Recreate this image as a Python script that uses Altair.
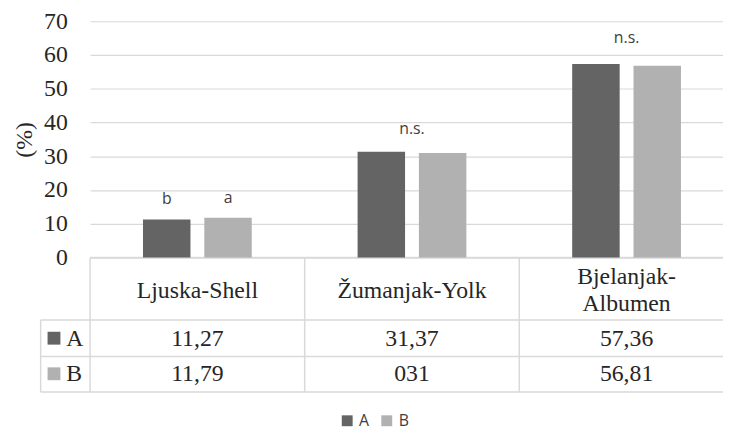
import altair as alt
import pandas as pd

# ---- data ----
categories = ["Ljuska-Shell", "Žumanjak-Yolk", "Bjelanjak-Albumen"]
header_labels = ["Ljuska-Shell", "Žumanjak-Yolk", "Bjelanjak-\nAlbumen"]
series = ["A", "B"]
values_a = [11.27, 31.37, 57.36]
values_b = [11.79, 31.0, 56.81]
table_a = ["11,27", "31,37", "57,36"]
table_b = ["11,79", "031", "56,81"]
colors = ["#646464", "#b1b1b1"]
y_ticks = [0, 10, 20, 30, 40, 50, 60, 70]

# per-bar significance letters (category, series, text, label level in %)
letter_cat = ["Ljuska-Shell", "Ljuska-Shell"]
letter_series = ["A", "B"]
letter_text = ["b", "a"]
letter_level = [15.8, 16.2]

# per-group notes
note_cat = ["Žumanjak-Yolk", "Bjelanjak-Albumen"]
note_text = ["n.s.", "n.s."]
note_level = [36.6, 63.6]

# ---- styles ----
SERIF = "Liberation Serif, Times New Roman, Times, serif"
SANS = "Open Sans"
TXT = "#262626"
LINE = "#d9d9d9"
W, H = 640, 239
COL_RANGE = 651  # three table columns, the last one runs off the page

bars = pd.DataFrame({
    "category": categories * 2,
    "series": ["A"] * 3 + ["B"] * 3,
    "value": values_a + values_b,
})
table = pd.DataFrame({
    "category": categories * 2,
    "series": ["A"] * 3 + ["B"] * 3,
    "txt": table_a + table_b,
})
header = pd.DataFrame({"category": categories, "header": header_labels})
header["lines"] = header["header"].str.count("\n") + 1
letters = pd.DataFrame({"category": letter_cat, "series": letter_series,
                        "txt": letter_text, "value": letter_level})
notes = pd.DataFrame({"category": note_cat, "txt": note_text, "value": note_level})
one = pd.DataFrame({"k": [0]})

x_scale = alt.Scale(domain=categories, range=[0, COL_RANGE], paddingInner=0, paddingOuter=0)
x_enc = alt.X("category:N", sort=categories, scale=x_scale, axis=None)
xoff = alt.XOffset("series:N", sort=series,
                   scale=alt.Scale(domain=series, paddingInner=0.2258, paddingOuter=0.8629))
y_enc = alt.Y(
    "value:Q",
    scale=alt.Scale(domain=[0, 70], nice=False, zero=True),
    axis=alt.Axis(
        values=y_ticks, grid=True, gridColor=LINE, gridWidth=1.2,
        domain=False, ticks=False, tickSize=0, labelPadding=23,
        labelFont=SERIF, labelFontSize=24, labelColor=TXT,
        title="(%)", titleFont=SERIF, titleFontSize=24, titleFontWeight="normal",
        titleColor=TXT, titleX=-66, titleY=119.5, titleAngle=270,
        titleAlign="center", titleBaseline="middle",
    ),
)

bar_layer = alt.Chart(bars).mark_bar().encode(
    x=x_enc, xOffset=xoff, y=y_enc,
    color=alt.Color(
        "series:N",
        scale=alt.Scale(domain=series, range=colors),
        legend=alt.Legend(
            orient="none", legendX=252, legendY=396, direction="horizontal",
            title=None, symbolType="square", symbolSize=121, symbolStrokeWidth=0,
            labelFont=SANS, labelFontSize=16, labelColor="#404040",
            labelOffset=4, columnPadding=9, padding=0,
        ),
    ),
)

letter_layer = alt.Chart(letters).mark_text(
    font=SANS, fontSize=16, color="#404040", baseline="alphabetic"
).encode(x=x_enc, xOffset=xoff, y=y_enc, text="txt:N")

note_layer = alt.Chart(notes).mark_text(
    font=SANS, fontSize=16, color="#404040", baseline="alphabetic"
).encode(x=x_enc, y=y_enc, text="txt:N")

header_one = alt.Chart(header).transform_filter(alt.datum.lines == 1).mark_text(
    font=SERIF, fontSize=24, color=TXT, baseline="alphabetic"
).encode(x=x_enc, y=alt.value(280), text="header:N")
header_two = alt.Chart(header).transform_filter(alt.datum.lines == 2).mark_text(
    font=SERIF, fontSize=24, color=TXT, baseline="alphabetic", lineBreak="\n", lineHeight=27
).encode(x=x_enc, y=alt.value(266), text="header:N")

row_base = [328.0, 364.0]
row_layers = []
for i, s in enumerate(series):
    row_layers.append(
        alt.Chart(table).transform_filter(alt.datum.series == s).mark_text(
            font=SERIF, fontSize=24, color=TXT, baseline="alphabetic"
        ).encode(x=x_enc, y=alt.value(row_base[i]), text="txt:N")
    )
    row_layers.append(
        alt.Chart(one).mark_square(size=169, opacity=1, filled=True).encode(
            x=alt.value(-36.5), y=alt.value(row_base[i] - 7.5), color=alt.value(colors[i])
        )
    )
    row_layers.append(
        alt.Chart(one).mark_text(
            font=SERIF, fontSize=24, color=TXT, baseline="alphabetic", align="left", text=s
        ).encode(x=alt.value(-24), y=alt.value(row_base[i]))
    )

# table grid lines
rules = []
for yy in [302, 339, 375]:
    rules.append(alt.Chart(one).mark_rule(color=LINE, strokeWidth=1.5).encode(
        x=alt.value(-50), x2=alt.value(W), y=alt.value(yy)))
rules.append(alt.Chart(one).mark_rule(color=LINE, strokeWidth=1.5).encode(
    x=alt.value(0), x2=alt.value(W), y=alt.value(H)))
rules.append(alt.Chart(one).mark_rule(color=LINE, strokeWidth=1.5).encode(
    x=alt.value(-50), y=alt.value(302), y2=alt.value(375)))
rules.append(alt.Chart(header).mark_rule(color=LINE, strokeWidth=1.5).encode(
    x=alt.X("category:N", sort=categories, scale=x_scale, axis=None, bandPosition=0),
    y=alt.value(H), y2=alt.value(375)))

chart = alt.layer(
    *rules, bar_layer, letter_layer, note_layer, header_one, header_two, *row_layers
).properties(
    width=W, height=H,
    padding={"left": 83, "top": 11, "right": 0, "bottom": 176},
    autosize=alt.AutoSizeParams(type="none"),
    background="white",
).configure_view(stroke=None)

chart.save("out.html", embed_options={"renderer": "svg", "actions": False})
